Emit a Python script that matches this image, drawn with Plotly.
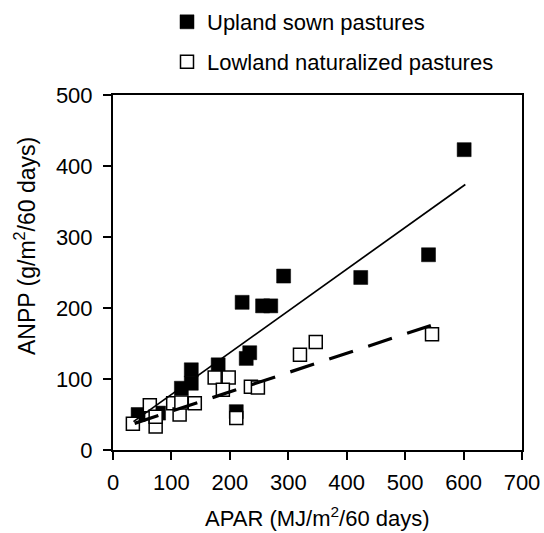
import plotly.graph_objects as go

# Upland sown pastures (filled squares)
upland_apar = [43, 78, 117, 134, 134, 180, 211, 228, 234, 221, 256, 270, 292, 424, 540, 601]
upland_anpp = [50, 52, 87, 94, 113, 120, 54, 129, 137, 208, 203, 203, 245, 243, 275, 423]

# Lowland naturalized pastures (open squares)
lowland_apar = [34, 63, 73, 73, 103, 114, 117, 140, 174, 198, 188, 211, 236, 248, 320, 347, 546]
lowland_anpp = [37, 63, 33, 47, 66, 50, 67, 66, 102, 102, 85, 45, 89, 88, 134, 152, 163]

# Regression lines (end points)
upland_fit_x = [35, 603]
upland_fit_y = [40, 374]
lowland_fit_x = [37, 546]
lowland_fit_y = [37.5, 176]

x_ticks = [0, 100, 200, 300, 400, 500, 600, 700]
y_ticks = [0, 100, 200, 300, 400, 500]

x_title = "APAR (MJ/m<sup>2</sup>/60 days)"
y_title = "ANPP (g/m<sup>2</sup>/60 days)"

FONT = "Liberation Sans, Arial, sans-serif"

fig = go.Figure()
fig.add_trace(go.Scatter(
    x=upland_apar, y=upland_anpp, mode="markers", name="Upland sown pastures",
    marker=dict(symbol="square", size=14, color="black", line=dict(color="black", width=0.5)),
    legend="legend",
))
fig.add_trace(go.Scatter(
    x=lowland_apar, y=lowland_anpp, mode="markers", name="Lowland naturalized pastures",
    marker=dict(symbol="square", size=13, color="white", line=dict(color="black", width=1.5)),
    legend="legend2",
))
fig.add_trace(go.Scatter(
    x=upland_fit_x, y=upland_fit_y, mode="lines", showlegend=False,
    line=dict(color="black", width=1.7),
))
fig.add_trace(go.Scatter(
    x=lowland_fit_x, y=lowland_fit_y, mode="lines", showlegend=False,
    line=dict(color="black", width=3.2, dash="25px,16px"),
))

L, R, T, B = 113, 22, 95, 83
W, H = 544, 533
pw, ph = W - L - R, H - T - B

fig.update_layout(
    width=W, height=H,
    margin=dict(l=L, r=R, t=T, b=B, pad=0, autoexpand=False),
    paper_bgcolor="white", plot_bgcolor="white",
    font=dict(family=FONT, size=22, color="black"),
    legend=dict(xref="container", yref="container", x=167 / W, y=1 - 22 / H,
                xanchor="left", yanchor="middle",
                font=dict(size=22), bgcolor="rgba(0,0,0,0)", borderwidth=0),
    legend2=dict(xref="container", yref="container", x=167 / W, y=1 - 62 / H,
                 xanchor="left", yanchor="middle",
                 font=dict(size=22), bgcolor="rgba(0,0,0,0)", borderwidth=0),
    xaxis=dict(
        range=[0, 700], tickvals=x_ticks, ticktext=[str(v) for v in x_ticks],
        showgrid=False, zeroline=False, showline=True, linecolor="black", linewidth=2,
        mirror=True, ticks="outside", ticklen=8, tickwidth=2, tickcolor="black",
        tickfont=dict(size=22), ticklabelstandoff=4,
    ),
    yaxis=dict(
        range=[0, 500], tickvals=y_ticks, ticktext=[str(v) for v in y_ticks],
        showgrid=False, zeroline=False, showline=True, linecolor="black", linewidth=2,
        mirror=True, ticks="outside", ticklen=8, tickwidth=2, tickcolor="black",
        tickfont=dict(size=22), ticklabelstandoff=6,
    ),
    annotations=[
        dict(text=x_title, xref="paper", yref="paper", x=0.5, y=(H - B - 517) / ph,
             xanchor="center", yanchor="middle", showarrow=False, font=dict(size=22)),
        dict(text=y_title, xref="paper", yref="paper", x=(25 - L) / pw, y=(H - B - 246) / ph,
             xanchor="center", yanchor="middle", textangle=-90, showarrow=False,
             font=dict(size=23)),
    ],
)

fig.write_html("out.html")
